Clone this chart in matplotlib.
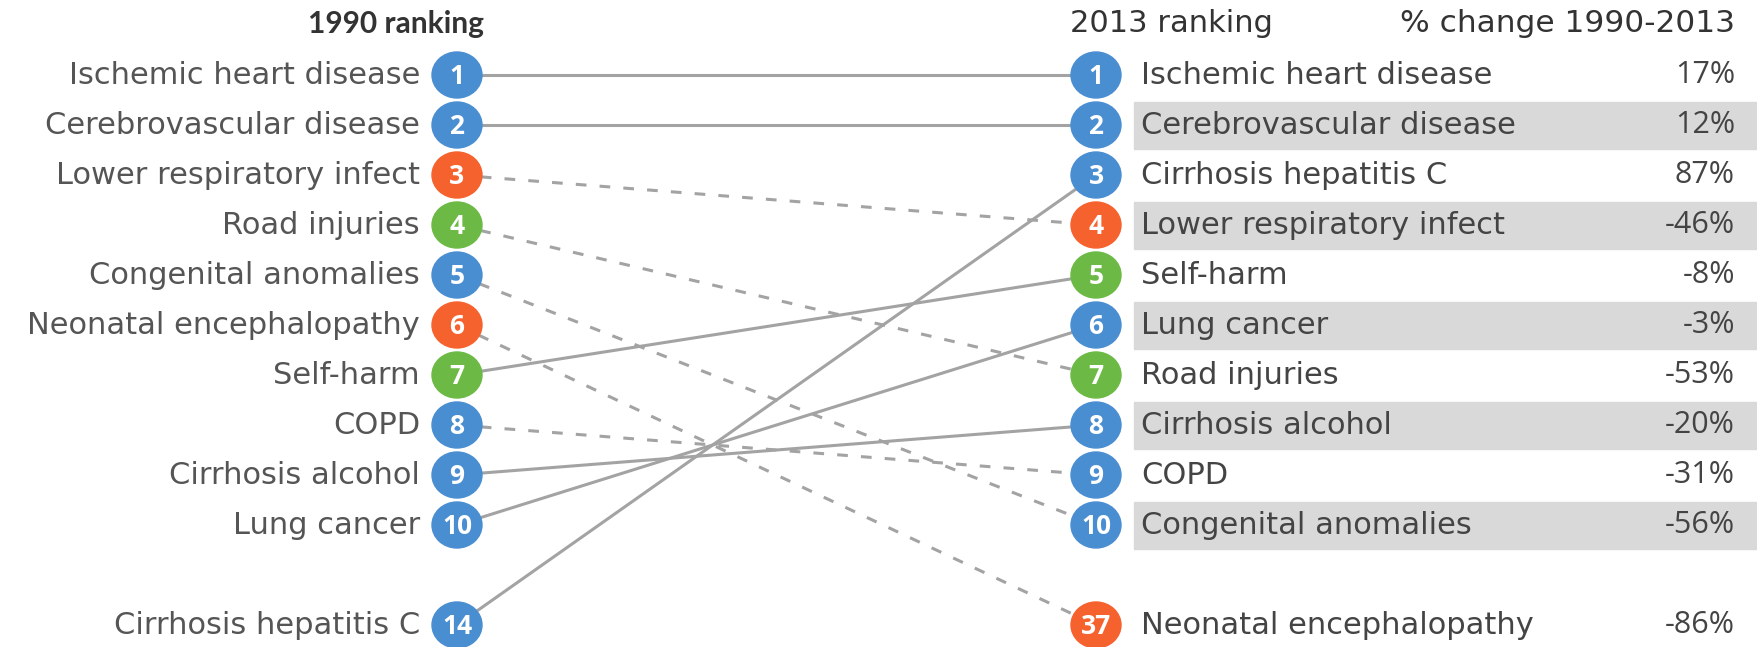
import matplotlib.pyplot as plt
from matplotlib.patches import Ellipse, Rectangle

# data
causes = ['Ischemic heart disease', 'Cerebrovascular disease', 'Lower respiratory infect',
          'Road injuries', 'Congenital anomalies', 'Neonatal encephalopathy', 'Self-harm',
          'COPD', 'Cirrhosis alcohol', 'Lung cancer', 'Cirrhosis hepatitis C']
rank_1990 = [1, 2, 3, 4, 5, 6, 7, 8, 9, 10, 14]
rank_2013 = [1, 2, 4, 7, 10, 37, 5, 9, 8, 6, 3]
pct_change = [17, 12, -46, -53, -56, -86, -8, -31, -20, -3, 87]
group = ['ncd', 'ncd', 'comm', 'inj', 'ncd', 'comm', 'inj', 'ncd', 'ncd', 'ncd', 'ncd']

colours = {'ncd': '#4a8ed2', 'comm': '#f6622e', 'inj': '#6cba45'}
label_font = 'DejaVu Sans'
num_font = 'Open Sans'

W, H = 1757, 647
fig = plt.figure(figsize=(W / 100, H / 100), dpi=100)
ax = fig.add_axes([0, 0, 1, 1])
ax.set_xlim(0, W)
ax.set_ylim(H, 0)
ax.axis('off')

x_left, x_right = 457, 1096
y0, dy = 75, 50


def row_y(rank):
    # ranks beyond the top ten go one empty row below
    slot = rank if rank <= 10 else 12
    return y0 + (slot - 1) * dy


# header
ax.text(484, 24, '1990 ranking', ha='right', va='center', fontsize=21.5, color='#333333',
        family='Lato', fontweight='bold')
ax.text(1070, 24, '2013 ranking', ha='left', va='center', fontsize=22, color='#333333',
        family=label_font)
ax.text(1735, 24, '% change 1990-2013', ha='right', va='center', fontsize=22.5,
        color='#333333', family=label_font)

# grey bands behind the even 2013 rows
for r in range(2, 11, 2):
    ax.add_patch(Rectangle((1134, row_y(r) - 23.5), W - 1134, 47, color='#d9d9d9', zorder=0))

# slope lines, dashed where the rank got worse
for r1, r2 in zip(rank_1990, rank_2013):
    ls = '-' if r2 <= r1 else (0, (3.5, 4.3))
    ax.plot([x_left, x_right], [row_y(r1), row_y(r2)], color='#a3a3a3', lw=2.2,
            linestyle=ls, zorder=1)

for i in range(len(causes)):
    c = colours[group[i]]
    yl = row_y(rank_1990[i])
    yr = row_y(rank_2013[i])
    ax.add_patch(Ellipse((x_left, yl), 50, 46, color=c, zorder=3))
    ax.add_patch(Ellipse((x_right, yr), 50, 46, color=c, zorder=3))
    ax.text(x_left, yl + 1, str(rank_1990[i]), ha='center', va='center', color='white',
            fontsize=19, family=num_font, fontweight='bold', zorder=4)
    ax.text(x_right, yr + 1, str(rank_2013[i]), ha='center', va='center', color='white',
            fontsize=19, family=num_font, fontweight='bold', zorder=4)
    ax.text(420, yl, causes[i], ha='right', va='center', fontsize=22, color='#555555',
            family=label_font, zorder=4)
    ax.text(1141, yr, causes[i], ha='left', va='center', fontsize=22, color='#444444',
            family=label_font, zorder=4)
    ax.text(1735, yr, '{}%'.format(pct_change[i]), ha='right', va='center', fontsize=22,
            color='#444444', family=num_font, zorder=4)

fig.savefig('out.png', dpi=100)
plt.close()
